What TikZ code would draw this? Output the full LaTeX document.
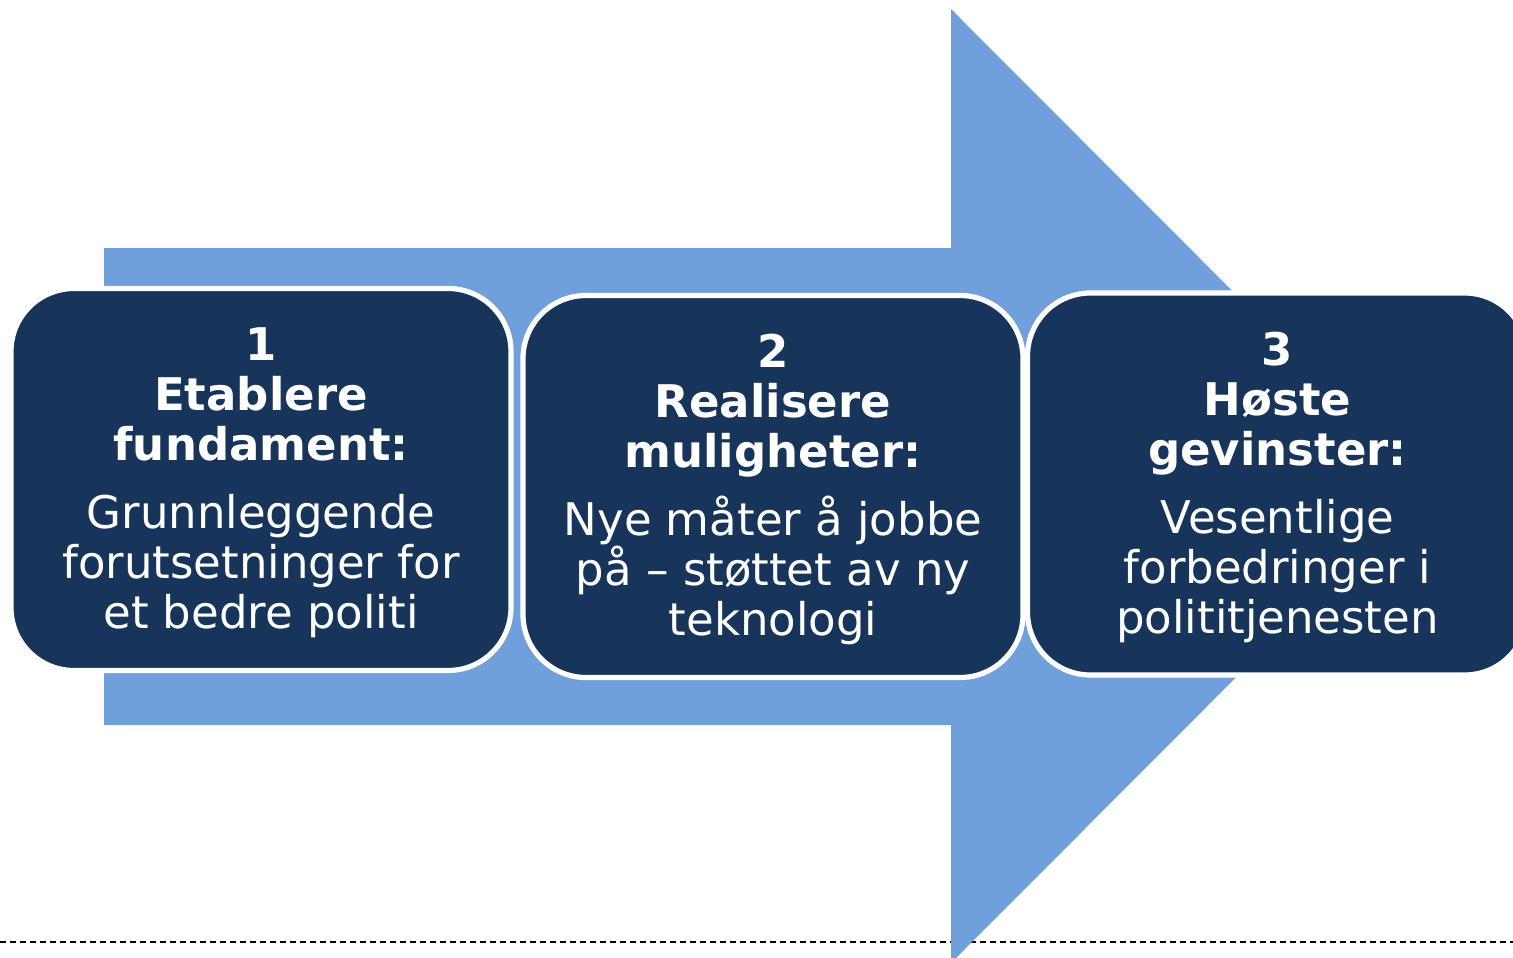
\documentclass[tikz,border=0pt]{standalone}
\usepackage{fontspec}
\setmainfont{DejaVu Sans}
\definecolor{navy}{HTML}{17345A}
\definecolor{arrowblue}{HTML}{6FA0DC}
\begin{document}
\begin{tikzpicture}[x=0.5pt,y=-0.5pt,
  stepbox/.style={draw=white, line width=2.6pt, fill=navy, rounded corners=31.5pt,
    minimum width=250pt, minimum height=191pt, inner sep=0pt},
  steptext/.style={text=white, align=center, anchor=base, inner sep=0pt,
    font=\fontsize{22.5}{25}\selectfont}]
\useasboundingbox (0,0) rectangle (1513,957);
\draw[black, line width=0.9pt, dash pattern=on 3pt off 2pt] (0,942) -- (1513,942);
\fill[arrowblue] (104,248) -- (951,248) -- (951,9) -- (1427,486) -- (951,963)
  -- (951,725) -- (104,725) -- cycle;
\node[stepbox] (b1) at (261,479.5) {};
\node[stepbox] (b2) at (773,486.5) {};
\node[stepbox] (b3) at (1277.5,484) {};
\node[steptext] (t1) at (261,628) {\textbf{1}\\\textbf{Etablere}\\\textbf{fundament:}\\[9pt]Grunnleggende\\forutsetninger for\\et bedre politi};
\node[steptext] (t2) at (773,635) {\textbf{2}\\\textbf{Realisere}\\\textbf{muligheter:}\\[9pt]Nye måter å jobbe\\på – støttet av ny\\teknologi};
\node[steptext] (t3) at (1277.5,633) {\textbf{3}\\\textbf{Høste}\\\textbf{gevinster:}\\[9pt]Vesentlige\\forbedringer i\\polititjenesten};
\end{tikzpicture}
\end{document}
